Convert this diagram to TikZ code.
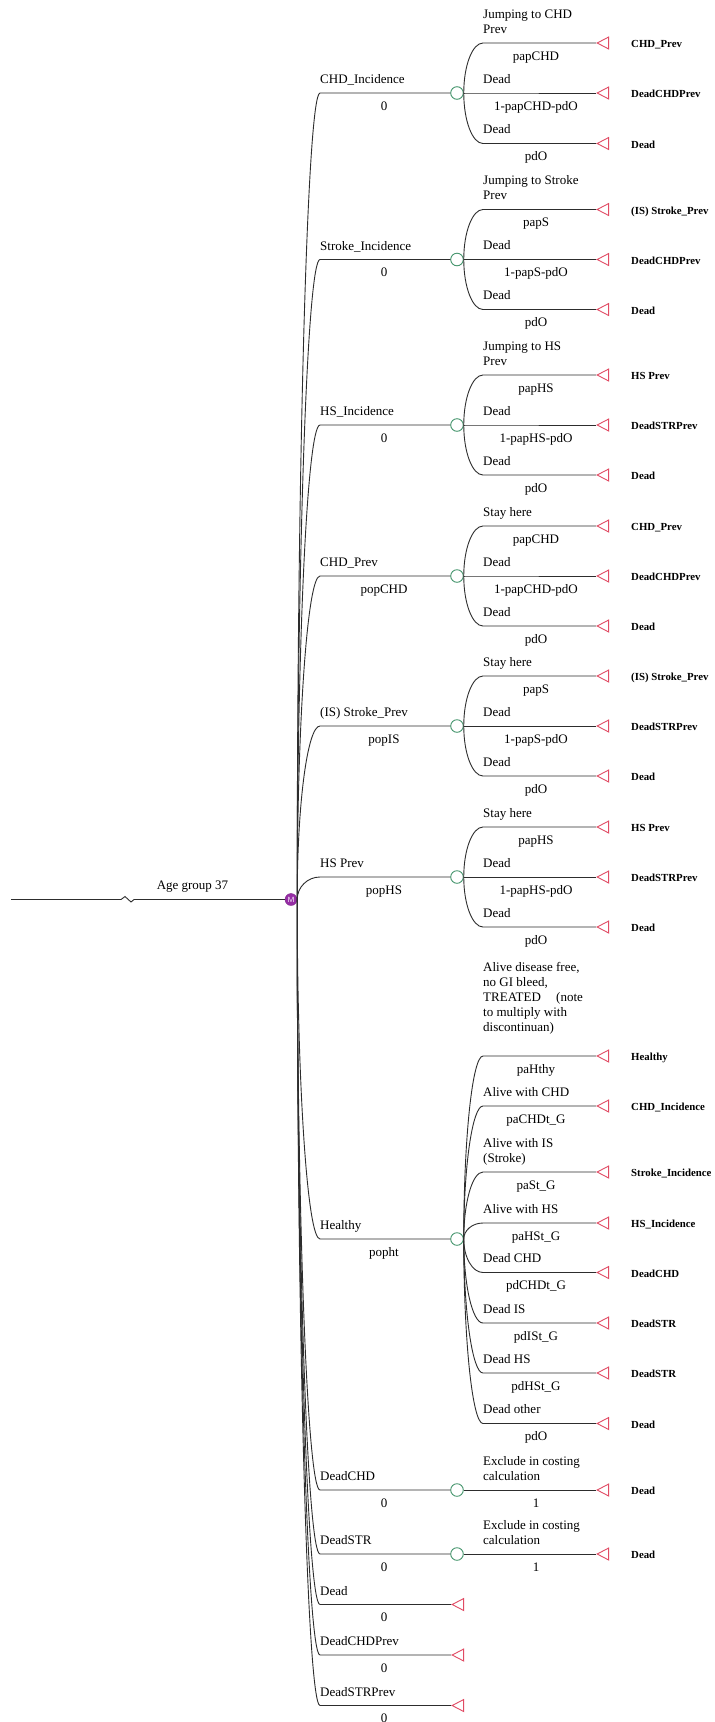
\documentclass[tikz,border=0pt]{standalone}
\usepackage{fontspec}
\setmainfont{Liberation Serif}
\usetikzlibrary{calc,shapes.geometric}

\definecolor{linegray}{RGB}{45,45,45}
\definecolor{chgreen}{RGB}{70,150,110}
\definecolor{termred}{RGB}{225,75,100}
\definecolor{mpurple}{RGB}{150,45,165}

\tikzset{
  ln/.style={draw=linegray, line width=0.9pt},
  % branch: leaves its parent vertically, arrives horizontally (quarter ellipse)
  br/.style={to path={.. controls ($(\tikztostart)!0.55!(\tikztostart|-\tikztotarget)$)
      and ($(\tikztotarget)!0.55!(\tikztostart|-\tikztotarget)$) .. (\tikztotarget) \tikztonodes}},
  chance/.style={circle, draw=chgreen, fill=white, line width=0.9pt,
      minimum size=12.6pt, inner sep=0pt},
  term/.style={isosceles triangle, isosceles triangle stretches, shape border rotate=180,
      draw=termred, fill=white, line width=0.9pt, minimum width=12pt, minimum height=11.5pt,
      inner sep=0pt, anchor=apex},
  mnode/.style={circle, fill=mpurple, draw=mpurple!85!black, line width=0.4pt,
      minimum size=12pt, inner sep=0pt, text=white, font=\sffamily\fontsize{7.5}{8}\selectfont},
  blabel/.style={anchor=base west, inner sep=0pt, font=\fontsize{13}{15}\selectfont},
  plabel/.style={anchor=base, inner sep=0pt, font=\fontsize{13}{15}\selectfont},
  tlabel/.style={anchor=base west, inner sep=0pt, font=\fontsize{10.8}{13}\selectfont\bfseries},
  rootlabel/.style={anchor=base, inner sep=0pt, font=\fontsize{13}{15}\selectfont},
}

% stacked label whose baseline is the last line
\newcommand{\stk}[1]{\begin{tabular}[b]{@{}l@{}}#1\end{tabular}}

% outcome of a chance node: [label gap]{id}{parent}{y}{label}{probability}{terminal}
\newcommand{\outcome}[7][10]{%
  \coordinate (#2e) at (483,#4);
  \node[term] (#2t) at (596,#4) {};
  \draw[ln] (#3.east) to[br] (#2e) -- (#2t.apex);
  \node[blabel] (#2n) at (483,#4-#1) {\stk{#5}};
  \node[plabel] (#2p) at (536,#4+17) {#6};
  \node[tlabel] (#2l) at (631,#4+4.5) {#7};
}

% branch of the Markov node ending in a chance node: {id}{y}{label}{probability}
\newcommand{\mchance}[4]{%
  \coordinate (#1s) at (320,#2);
  \node[chance] (#1) at (457,#2) {};
  \draw[ln] (root.east) to[br] (#1s) -- (#1.west);
  \node[blabel] (#1n) at (320,#2-9.5) {\stk{#3}};
  \node[plabel] (#1p) at (384,#2+17) {#4};
}

% branch of the Markov node ending in a terminal: {id}{y}{label}{probability}
\newcommand{\mterm}[4]{%
  \coordinate (#1s) at (320,#2);
  \node[term] (#1t) at (451,#2) {};
  \draw[ln] (root.east) to[br] (#1s) -- (#1t.apex);
  \node[blabel] (#1n) at (320,#2-9.5) {\stk{#3}};
  \node[plabel] (#1p) at (384,#2+17) {#4};
}

\begin{document}
\begin{tikzpicture}[x=1pt, y=-1pt]
\useasboundingbox (0,0) rectangle (715,1722);
\fill[white] (0,0) rectangle (715,1722);

% root
\node[mnode] (root) at (291,899.5) {M};
\coordinate (start) at (11,899.5);
\draw[ln] (start) -- (121,899.5) -- (125,896.5) -- (131,902) -- (134,899.5) -- (root.west);
\node[rootlabel] (age) at (192.5,889.5) {Age group 37};

% incidence states
\mchance{cI}{93}{CHD\_Incidence}{0}
\outcome{cIa}{cI}{43}{Jumping to CHD\\Prev}{papCHD}{CHD\_Prev}
\outcome{cIb}{cI}{93}{Dead}{1-papCHD-pdO}{DeadCHDPrev}
\outcome{cIc}{cI}{143.5}{Dead}{pdO}{Dead}

\mchance{sI}{259.5}{Stroke\_Incidence}{0}
\outcome{sIa}{sI}{209.5}{Jumping to Stroke\\Prev}{papS}{(IS) Stroke\_Prev}
\outcome{sIb}{sI}{259.5}{Dead}{1-papS-pdO}{DeadCHDPrev}
\outcome{sIc}{sI}{309.5}{Dead}{pdO}{Dead}

\mchance{hI}{425}{HS\_Incidence}{0}
\outcome{hIa}{hI}{375}{Jumping to HS\\Prev}{papHS}{HS Prev}
\outcome{hIb}{hI}{425}{Dead}{1-papHS-pdO}{DeadSTRPrev}
\outcome{hIc}{hI}{475}{Dead}{pdO}{Dead}

% prevalent states
\mchance{cP}{576}{CHD\_Prev}{popCHD}
\outcome{cPa}{cP}{526}{Stay here}{papCHD}{CHD\_Prev}
\outcome{cPb}{cP}{576}{Dead}{1-papCHD-pdO}{DeadCHDPrev}
\outcome{cPc}{cP}{626}{Dead}{pdO}{Dead}

\mchance{sP}{726}{(IS) Stroke\_Prev}{popIS}
\outcome{sPa}{sP}{676}{Stay here}{papS}{(IS) Stroke\_Prev}
\outcome{sPb}{sP}{726}{Dead}{1-papS-pdO}{DeadSTRPrev}
\outcome{sPc}{sP}{776}{Dead}{pdO}{Dead}

\mchance{hP}{877}{HS Prev}{popHS}
\outcome{hPa}{hP}{827}{Stay here}{papHS}{HS Prev}
\outcome{hPb}{hP}{877}{Dead}{1-papHS-pdO}{DeadSTRPrev}
\outcome{hPc}{hP}{927}{Dead}{pdO}{Dead}

% healthy
\mchance{hy}{1239}{Healthy}{popht}
\outcome[25]{hya}{hy}{1056}{Alive disease free,\\no GI bleed,\\TREATED\hspace*{12pt} (note\\to multiply with\\discontinuan)}{paHthy}{Healthy}
\outcome{hyb}{hy}{1106}{Alive with CHD}{paCHDt\_G}{CHD\_Incidence}
\outcome{hyc}{hy}{1172}{Alive with IS\\(Stroke)}{paSt\_G}{Stroke\_Incidence}
\outcome{hyd}{hy}{1223}{Alive with HS}{paHSt\_G}{HS\_Incidence}
\outcome{hye}{hy}{1272.5}{Dead CHD}{pdCHDt\_G}{DeadCHD}
\outcome{hyf}{hy}{1323}{Dead IS}{pdISt\_G}{DeadSTR}
\outcome{hyg}{hy}{1373}{Dead HS}{pdHSt\_G}{DeadSTR}
\outcome{hyh}{hy}{1423.5}{Dead other}{pdO}{Dead}

% dead states
\mchance{dC}{1490}{DeadCHD}{0}
\outcome{dCa}{dC}{1490}{Exclude in costing\\calculation}{1}{Dead}

\mchance{dS}{1554}{DeadSTR}{0}
\outcome{dSa}{dS}{1554}{Exclude in costing\\calculation}{1}{Dead}

\mterm{dd}{1604.5}{Dead}{0}
\mterm{dcp}{1655}{DeadCHDPrev}{0}
\mterm{dsp}{1705.5}{DeadSTRPrev}{0}
\end{tikzpicture}
\end{document}
